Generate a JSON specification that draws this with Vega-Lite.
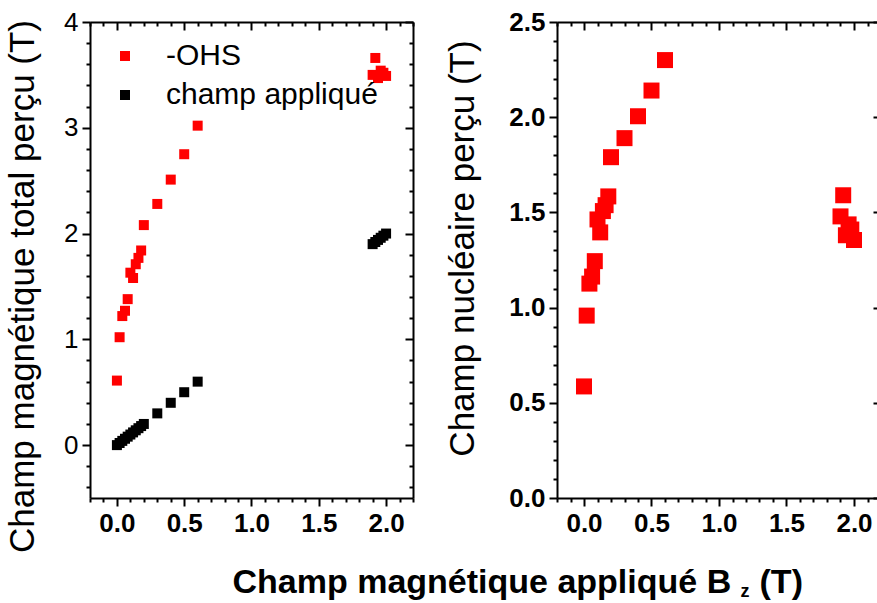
{
  "$schema": "https://vega.github.io/schema/vega-lite/v6.json",
  "background": "white",
  "padding": {"left": 5, "top": 9, "right": 0, "bottom": 0},
  "bounds": "flush",
  "spacing": 144,
  "resolve": {"scale": {"color": "independent"}},
  "config": {
    "view": {"stroke": null},
    "font": "Liberation Sans",
    "axis": {
      "grid": false,
      "domainColor": "black",
      "domainWidth": 2,
      "tickColor": "black",
      "tickWidth": 2,
      "labelColor": "black",
      "titleColor": "black",
      "labelFont": "Liberation Sans",
      "titleFont": "Liberation Sans",
      "labelFlush": false,
      "labelOverlap": false
    }
  },
  "datasets": {
    "total": [
      {"x": 0, "y": 0.61, "series": "-OHS"},
      {"x": 0.02, "y": 1.02, "series": "-OHS"},
      {"x": 0.04, "y": 1.22, "series": "-OHS"},
      {"x": 0.06, "y": 1.27, "series": "-OHS"},
      {"x": 0.08, "y": 1.38, "series": "-OHS"},
      {"x": 0.10, "y": 1.63, "series": "-OHS"},
      {"x": 0.12, "y": 1.58, "series": "-OHS"},
      {"x": 0.14, "y": 1.71, "series": "-OHS"},
      {"x": 0.16, "y": 1.77, "series": "-OHS"},
      {"x": 0.18, "y": 1.84, "series": "-OHS"},
      {"x": 0.20, "y": 2.08, "series": "-OHS"},
      {"x": 0.3, "y": 2.28, "series": "-OHS"},
      {"x": 0.4, "y": 2.51, "series": "-OHS"},
      {"x": 0.5, "y": 2.75, "series": "-OHS"},
      {"x": 0.6, "y": 3.02, "series": "-OHS"},
      {"x": 1.90, "y": 3.50, "series": "-OHS"},
      {"x": 1.92, "y": 3.66, "series": "-OHS"},
      {"x": 1.94, "y": 3.47, "series": "-OHS"},
      {"x": 1.96, "y": 3.54, "series": "-OHS"},
      {"x": 1.98, "y": 3.52, "series": "-OHS"},
      {"x": 2.0, "y": 3.49, "series": "-OHS"},
      {"x": 0, "y": 0, "series": "champ appliqué"},
      {"x": 0.02, "y": 0.02, "series": "champ appliqué"},
      {"x": 0.04, "y": 0.04, "series": "champ appliqué"},
      {"x": 0.06, "y": 0.06, "series": "champ appliqué"},
      {"x": 0.08, "y": 0.08, "series": "champ appliqué"},
      {"x": 0.10, "y": 0.10, "series": "champ appliqué"},
      {"x": 0.12, "y": 0.12, "series": "champ appliqué"},
      {"x": 0.14, "y": 0.14, "series": "champ appliqué"},
      {"x": 0.16, "y": 0.16, "series": "champ appliqué"},
      {"x": 0.18, "y": 0.18, "series": "champ appliqué"},
      {"x": 0.20, "y": 0.20, "series": "champ appliqué"},
      {"x": 0.3, "y": 0.3, "series": "champ appliqué"},
      {"x": 0.4, "y": 0.4, "series": "champ appliqué"},
      {"x": 0.5, "y": 0.5, "series": "champ appliqué"},
      {"x": 0.6, "y": 0.6, "series": "champ appliqué"},
      {"x": 1.90, "y": 1.90, "series": "champ appliqué"},
      {"x": 1.92, "y": 1.92, "series": "champ appliqué"},
      {"x": 1.94, "y": 1.94, "series": "champ appliqué"},
      {"x": 1.96, "y": 1.96, "series": "champ appliqué"},
      {"x": 1.98, "y": 1.98, "series": "champ appliqué"},
      {"x": 2.0, "y": 2.0, "series": "champ appliqué"}
    ],
    "nuc": [
      {"x": 0, "y": 0.586},
      {"x": 0.02, "y": 0.958},
      {"x": 0.04, "y": 1.126},
      {"x": 0.06, "y": 1.163},
      {"x": 0.08, "y": 1.244},
      {"x": 0.10, "y": 1.463},
      {"x": 0.12, "y": 1.395},
      {"x": 0.14, "y": 1.507},
      {"x": 0.16, "y": 1.538},
      {"x": 0.18, "y": 1.584},
      {"x": 0.20, "y": 1.79},
      {"x": 0.3, "y": 1.89},
      {"x": 0.4, "y": 2.005},
      {"x": 0.5, "y": 2.14},
      {"x": 0.6, "y": 2.30},
      {"x": 1.90, "y": 1.479},
      {"x": 1.92, "y": 1.59},
      {"x": 1.94, "y": 1.38},
      {"x": 1.96, "y": 1.437},
      {"x": 1.98, "y": 1.41},
      {"x": 2.0, "y": 1.355}
    ]
  },
  "hconcat": [
    {
      "width": 323,
      "height": 476,
      "data": {"name": "total"},
      "resolve": {"axis": {"x": "independent", "y": "independent"}},
      "layer": [
        {
          "mark": {"type": "square", "size": 100, "opacity": 1},
          "encoding": {
            "x": {
              "field": "x", "type": "quantitative",
              "scale": {"domain": [-0.2, 2.2], "nice": false, "zero": false},
              "axis": {
                "orient": "bottom",
                "values": [-0.2,-0.1,0,0.1,0.2,0.3,0.4,0.5,0.6,0.7,0.8,0.9,1,1.1,1.2,1.3,1.4,1.5,1.6,1.7,1.8,1.9,2,2.1,2.2],
                "labelExpr": "abs(datum.value*2 - round(datum.value*2)) < 0.001 ? format(datum.value, '.1f') : ''",
                "tickSize": {"condition": {"test": "abs(datum.value*2 - round(datum.value*2)) < 0.001", "value": 8}, "value": 4},
                "labelFontSize": 26,
                "labelFontWeight": "bold",
                "labelPadding": 4,
                "title": "Champ magnétique appliqué B\u00a0\u00a0\u00a0(T)",
                "titleFontSize": 34,
                "titleFontWeight": "bold",
                "titleX": 142,
                "titleY": 94,
                "titleAlign": "left",
                "titleBaseline": "alphabetic"
              }
            },
            "y": {
              "field": "y", "type": "quantitative",
              "scale": {"domain": [-0.5, 4], "nice": false, "zero": false},
              "axis": {
                "orient": "left",
                "values": [-0.4,-0.2,0,0.2,0.4,0.6,0.8,1,1.2,1.4,1.6,1.8,2,2.2,2.4,2.6,2.8,3,3.2,3.4,3.6,3.8,4],
                "labelExpr": "abs(datum.value - round(datum.value)) < 0.001 ? format(datum.value, 'd') : ''",
                "tickSize": {"condition": {"test": "abs(datum.value - round(datum.value)) < 0.001", "value": 8}, "value": 4},
                "labelFontSize": 26,
                "labelFontWeight": "normal",
                "labelPadding": 4,
                "title": "Champ magnétique total perçu (T)",
                "titleFontSize": 35,
                "titleFontWeight": "normal",
                "titlePadding": 23,
                "titleY": 264
              }
            },
            "color": {
              "field": "series", "type": "nominal",
              "scale": {"domain": ["-OHS", "champ appliqué"], "range": ["#ff0000", "#000000"]},
              "legend": {
                "orient": "none",
                "legendX": 20,
                "legendY": 19,
                "title": null,
                "padding": 0,
                "labelFontSize": 30,
                "labelFont": "Liberation Sans",
                "labelColor": "black",
                "labelLimit": 400,
                "symbolType": "square",
                "symbolSize": 100,
                "symbolStrokeWidth": 0,
                "symbolOpacity": 1,
                "labelOffset": 26,
                "rowPadding": 9
              }
            }
          }
        },
        {
          "mark": {"type": "square", "size": 100, "opacity": 0},
          "encoding": {
            "x": {
              "field": "x", "type": "quantitative",
              "scale": {"domain": [-0.2, 2.2], "nice": false, "zero": false},
              "axis": {
                "orient": "top",
                "values": [-0.2,-0.1,0,0.1,0.2,0.3,0.4,0.5,0.6,0.7,0.8,0.9,1,1.1,1.2,1.3,1.4,1.5,1.6,1.7,1.8,1.9,2,2.1,2.2],
                "labels": false,
                "title": null,
                "tickSize": {"condition": {"test": "abs(datum.value*2 - round(datum.value*2)) < 0.001", "value": -8}, "value": -4}
              }
            },
            "y": {
              "field": "y", "type": "quantitative",
              "scale": {"domain": [-0.5, 4], "nice": false, "zero": false},
              "axis": {
                "orient": "right",
                "values": [-0.4,-0.2,0,0.2,0.4,0.6,0.8,1,1.2,1.4,1.6,1.8,2,2.2,2.4,2.6,2.8,3,3.2,3.4,3.6,3.8,4],
                "labels": false,
                "title": null,
                "tickSize": {"condition": {"test": "abs(datum.value - round(datum.value)) < 0.001", "value": -8}, "value": -4}
              }
            }
          }
        }
      ]
    },
    {
      "width": 324,
      "height": 476,
      "data": {"name": "nuc"},
      "resolve": {"axis": {"x": "independent", "y": "independent"}},
      "layer": [
        {
          "mark": {"type": "square", "size": 256, "opacity": 1, "color": "#ff0000"},
          "encoding": {
            "x": {
              "field": "x", "type": "quantitative",
              "scale": {"domain": [-0.2, 2.2], "nice": false, "zero": false},
              "axis": {
                "orient": "bottom",
                "values": [-0.2,-0.1,0,0.1,0.2,0.3,0.4,0.5,0.6,0.7,0.8,0.9,1,1.1,1.2,1.3,1.4,1.5,1.6,1.7,1.8,1.9,2,2.1,2.2],
                "labelExpr": "abs(datum.value*2 - round(datum.value*2)) < 0.001 ? format(datum.value, '.1f') : ''",
                "tickSize": {"condition": {"test": "abs(datum.value*2 - round(datum.value*2)) < 0.001", "value": 8}, "value": 4},
                "labelFontSize": 26,
                "labelFontWeight": "bold",
                "labelPadding": 4,
                "title": "z",
                "titleFontSize": 18,
                "titleFontWeight": "bold",
                "titleX": 183,
                "titleY": 98,
                "titleAlign": "left",
                "titleBaseline": "alphabetic"
              }
            },
            "y": {
              "field": "y", "type": "quantitative",
              "scale": {"domain": [0, 2.5], "nice": false, "zero": false},
              "axis": {
                "orient": "left",
                "values": [0,0.1,0.2,0.3,0.4,0.5,0.6,0.7,0.8,0.9,1,1.1,1.2,1.3,1.4,1.5,1.6,1.7,1.8,1.9,2,2.1,2.2,2.3,2.4,2.5],
                "labelExpr": "abs(datum.value*2 - round(datum.value*2)) < 0.001 ? format(datum.value, '.1f') : ''",
                "tickSize": {"condition": {"test": "abs(datum.value*2 - round(datum.value*2)) < 0.001", "value": 8}, "value": 4},
                "labelFontSize": 26,
                "labelFontWeight": "bold",
                "labelPadding": 4,
                "title": "Champ nucléaire perçu (T)",
                "titleFontSize": 35,
                "titleFontWeight": "normal",
                "titlePadding": 28,
                "titleY": 226
              }
            }
          }
        },
        {
          "mark": {"type": "square", "size": 256, "opacity": 0},
          "encoding": {
            "x": {
              "field": "x", "type": "quantitative",
              "scale": {"domain": [-0.2, 2.2], "nice": false, "zero": false},
              "axis": {
                "orient": "top",
                "values": [-0.2,-0.1,0,0.1,0.2,0.3,0.4,0.5,0.6,0.7,0.8,0.9,1,1.1,1.2,1.3,1.4,1.5,1.6,1.7,1.8,1.9,2,2.1,2.2],
                "labels": false,
                "title": null,
                "tickSize": {"condition": {"test": "abs(datum.value*2 - round(datum.value*2)) < 0.001", "value": -8}, "value": -4}
              }
            },
            "y": {
              "field": "y", "type": "quantitative",
              "scale": {"domain": [0, 2.5], "nice": false, "zero": false},
              "axis": {
                "orient": "right",
                "values": [0,0.1,0.2,0.3,0.4,0.5,0.6,0.7,0.8,0.9,1,1.1,1.2,1.3,1.4,1.5,1.6,1.7,1.8,1.9,2,2.1,2.2,2.3,2.4,2.5],
                "labels": false,
                "title": null,
                "tickSize": {"condition": {"test": "abs(datum.value*2 - round(datum.value*2)) < 0.001", "value": -8}, "value": -4}
              }
            }
          }
        }
      ]
    }
  ]
}
